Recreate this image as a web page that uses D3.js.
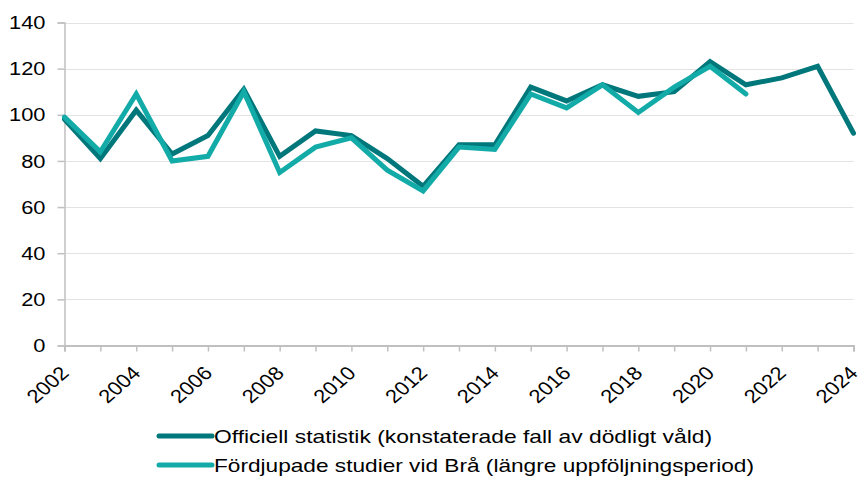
<!DOCTYPE html>
<html><head><meta charset="utf-8">
<script src="https://cdn.jsdelivr.net/npm/d3@7"></script>
<style>body{margin:0;background:#fff}svg{display:block}text{font-family:"Liberation Sans",Arial,sans-serif;fill:#000}</style>
</head><body><svg id="c" width="859" height="477"></svg>
<script>
const years = d3.range(2002, 2025);
const officiell = [98,81,102,83,91,111,82,93,91,81,69,87,87,112,106,113,108,110,123,113,116,121,92];
const fordjupade = [99,84,109,80,82,110,75,86,90,76,67,86,85,109,103,113,101,112,121,109];
const yTicks = [0,20,40,60,80,100,120,140];
const xTickLabels = d3.range(2002, 2025, 2);
const seriesNames = ["Officiell statistik (konstaterade fall av dödligt våld)","Fördjupade studier vid Brå (längre uppföljningsperiod)"];
const colors = ["#00777b","#13aba8"];

const svg = d3.select("#c");
const x = d3.scaleLinear().domain([2002,2024]).range([64.5,853.5]);
const y = d3.scaleLinear().domain([0,140]).range([345.5,22.5]);

// gridlines
svg.append("g").selectAll("line").data(yTicks.filter(d=>d>0)).join("line")
  .attr("x1",x(2002)).attr("x2",x(2024)).attr("y1",d=>Math.round(y(d))+0.5).attr("y2",d=>Math.round(y(d))+0.5)
  .attr("stroke","#e3e3e3").attr("stroke-width",1.2);

// y axis
const ya = svg.append("g").attr("transform",`translate(${x(2002)},0)`)
  .call(d3.axisLeft(y).tickValues(yTicks).tickSize(7).tickPadding(0).tickFormat(""));
ya.select(".domain").attr("stroke","#c0c0c0").attr("stroke-width",1.5);
ya.selectAll(".tick line").attr("stroke","#c0c0c0").attr("stroke-width",1.5);
svg.append("g").selectAll("text").data(yTicks).join("text")
  .attr("transform",d=>`translate(${x(2002)-19},${y(d)}) scale(1.18,1)`)
  .attr("text-anchor","end").attr("dy","0.36em").attr("font-size","18.5px").text(d=>d);

// x axis
const xa = svg.append("g").attr("transform",`translate(0,${y(0)})`)
  .call(d3.axisBottom(x).tickValues(years).tickSize(6).tickFormat(""));
xa.select(".domain").attr("stroke","#c0c0c0").attr("stroke-width",2);
xa.selectAll(".tick line").attr("stroke","#c0c0c0").attr("stroke-width",1.5);
svg.append("g").selectAll("text").data(xTickLabels).join("text")
  .attr("transform",d=>`translate(${x(d)},${y(0)+24}) scale(1.15,1) rotate(-45)`)
  .attr("text-anchor","end").attr("dy","0.36em").attr("font-size","19px").text(d=>d);

// lines
const line = d3.line().x((d,i)=>x(years[i])).y(d=>y(d));
[officiell, fordjupade].forEach((s,i)=>{
  svg.append("path").datum(s).attr("d",line).attr("fill","none")
    .attr("stroke",colors[i]).attr("stroke-width",5).attr("stroke-linejoin","miter").attr("stroke-linecap","round");
});

// legend
const lg = svg.append("g");
const legendWidths = [498, 540];
seriesNames.forEach((n,i)=>{
  const yy = 436 + i*29;
  lg.append("line").attr("x1",159).attr("x2",212).attr("y1",yy).attr("y2",yy)
    .attr("stroke",colors[i]).attr("stroke-width",5).attr("stroke-linecap","round");
  lg.append("text").attr("x",214).attr("y",yy).attr("dy","0.36em").attr("font-size","18.5px")
    .attr("textLength",legendWidths[i]).attr("lengthAdjust","spacingAndGlyphs").text(n);
});
</script></body></html>
